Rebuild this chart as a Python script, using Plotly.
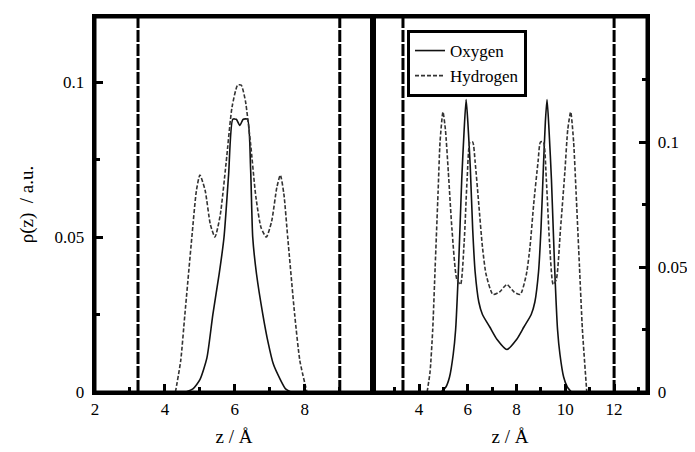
import plotly.graph_objects as go

# ---- data ----
# Left panel
zO_L = [4.6, 4.8, 5.0, 5.2, 5.37, 5.55, 5.69, 5.82, 5.94, 6.04, 6.14, 6.24, 6.36, 6.45, 6.51, 6.62, 6.8, 6.95, 7.1, 7.3, 7.45, 7.6]
rO_L = [0.0, 0.001, 0.004, 0.011, 0.025, 0.038, 0.050, 0.070, 0.088, 0.088, 0.086, 0.088, 0.088, 0.072, 0.050, 0.038, 0.025, 0.016, 0.009, 0.004, 0.001, 0.0]

zH_L = [4.3, 4.45, 4.57, 4.77, 4.9, 5.0, 5.15, 5.3, 5.43, 5.58, 5.75, 5.92, 6.08, 6.18, 6.3, 6.45, 6.6, 6.75, 6.9, 7.05, 7.2, 7.3, 7.4, 7.51, 7.71, 7.86, 8.06]
rH_L = [0.0, 0.010, 0.025, 0.050, 0.065, 0.070, 0.065, 0.054, 0.050, 0.057, 0.074, 0.092, 0.099, 0.099, 0.094, 0.080, 0.063, 0.053, 0.050, 0.055, 0.066, 0.070, 0.064, 0.050, 0.025, 0.010, 0.0]

# Right panel
zO_R = [4.9, 5.1, 5.25, 5.4, 5.5, 5.62, 5.75, 5.85, 5.93, 6.0, 6.1, 6.2, 6.3, 6.45, 6.6, 6.9, 7.2, 7.6, 8.0, 8.3, 8.6, 8.75, 8.9, 9.0, 9.1, 9.18, 9.25, 9.33, 9.43, 9.56, 9.68, 9.78, 9.93, 10.08, 10.25]
rO_R = [0.0, 0.002, 0.006, 0.015, 0.025, 0.050, 0.085, 0.105, 0.117, 0.108, 0.090, 0.065, 0.048, 0.036, 0.031, 0.026, 0.021, 0.017, 0.021, 0.026, 0.031, 0.036, 0.048, 0.065, 0.090, 0.108, 0.117, 0.105, 0.085, 0.050, 0.025, 0.015, 0.006, 0.002, 0.0]

zH_R = [4.33, 4.45, 4.56, 4.66, 4.78, 4.86, 4.98, 5.08, 5.2, 5.35, 5.55, 5.7, 5.85, 5.97, 6.09, 6.2, 6.3, 6.45, 6.6, 6.75, 7.03, 7.3, 7.6, 7.9, 8.15, 8.4, 8.55, 8.7, 8.88, 8.98, 9.1, 9.22, 9.35, 9.5, 9.63, 9.8, 9.98, 10.1, 10.22, 10.34, 10.44, 10.58, 10.7, 10.88]
rH_R = [0.0, 0.008, 0.025, 0.050, 0.080, 0.100, 0.112, 0.105, 0.088, 0.065, 0.045, 0.043, 0.060, 0.085, 0.100, 0.100, 0.092, 0.075, 0.058, 0.047, 0.039, 0.040, 0.043, 0.040, 0.039, 0.047, 0.058, 0.075, 0.092, 0.100, 0.100, 0.085, 0.060, 0.043, 0.045, 0.065, 0.088, 0.105, 0.112, 0.100, 0.080, 0.050, 0.025, 0.0]

walls_L = [3.23, 9.0]
walls_R = [3.34, 12.0]

x_ticks_L = [2, 4, 6, 8]
x_minor_L = [3, 5, 7, 9]
x_ticks_R = [4, 6, 8, 10, 12]
x_minor_R = [3, 5, 7, 9, 11, 13]
y_ticks = [0, 0.05, 0.1]
y_minor_L = [0.025, 0.075]
y_minor_R = [0.025, 0.075, 0.125]
y_labels_L = ["0 ", "0.05 ", "0.1 "]
y_labels_R = [" 0", " 0.05", " 0.1"]

FONT = "Liberation Serif, Times New Roman, DejaVu Serif, serif"

fig = go.Figure()
fig.add_trace(go.Scatter(x=zO_L, y=rO_L, mode="lines", name="Oxygen",
                         line=dict(color="#111", width=1.6, shape="spline", smoothing=0.6),
                         xaxis="x", yaxis="y", showlegend=True))
fig.add_trace(go.Scatter(x=zH_L, y=rH_L, mode="lines", name="Hydrogen",
                         line=dict(color="#333", width=1.6, dash="4px,2px", shape="spline", smoothing=0.6),
                         xaxis="x", yaxis="y", showlegend=True))
fig.add_trace(go.Scatter(x=zO_R, y=rO_R, mode="lines", name="Oxygen",
                         line=dict(color="#111", width=1.6, shape="spline", smoothing=0.6),
                         xaxis="x2", yaxis="y2", showlegend=False))
fig.add_trace(go.Scatter(x=zH_R, y=rH_R, mode="lines", name="Hydrogen",
                         line=dict(color="#333", width=1.6, dash="4px,2px", shape="spline", smoothing=0.6),
                         xaxis="x2", yaxis="y2", showlegend=False))

for xv in walls_L:
    fig.add_shape(type="line", xref="x", yref="y domain", x0=xv, x1=xv, y0=0, y1=1,
                  line=dict(color="black", width=3, dash="12px,2px"))
for xv in walls_R:
    fig.add_shape(type="line", xref="x2", yref="y2 domain", x0=xv, x1=xv, y0=0, y1=1,
                  line=dict(color="black", width=3, dash="12px,2px"))

split = 278 / 552

# panel frames in paper coordinates
fig.add_shape(type="rect", xref="paper", yref="paper", x0=0, x1=split, y0=0, y1=1,
              line=dict(color="black", width=3), layer="above")
fig.add_shape(type="rect", xref="paper", yref="paper", x0=split, x1=1, y0=0, y1=1,
              line=dict(color="black", width=3), layer="above")


def minor(vals):
    return dict(tickmode="array", tickvals=vals, ticks="inside", ticklen=5,
                tickwidth=2.5, tickcolor="black")


axis_common = dict(showline=True, linecolor="black", linewidth=3, mirror=True,
                   ticks="inside", tickwidth=2.5, ticklen=8, tickcolor="black",
                   showgrid=False, zeroline=False, layer="above traces",
                   tickfont=dict(family=FONT, size=17, color="black"))

fig.update_layout(
    template="none",
    width=695, height=452,
    margin=dict(l=87, r=56, t=9, b=68),
    paper_bgcolor="white", plot_bgcolor="white",
    font=dict(family=FONT, color="black", size=17),
    xaxis=dict(domain=[0, split], range=[2, 9.95], tickmode="array", tickvals=x_ticks_L,
               minor=minor(x_minor_L),
               title=dict(text="z / Å", font=dict(family=FONT, size=19, color="black"), standoff=12),
               anchor="y", **axis_common),
    yaxis=dict(range=[0, 0.121], tickmode="array", tickvals=y_ticks, ticktext=y_labels_L,
               minor=minor(y_minor_L),
               title=dict(text="ρ(z)  / a.u.", font=dict(family=FONT, size=19, color="black"), standoff=16),
               anchor="x", **axis_common),
    xaxis2=dict(domain=[split, 1], range=[2.11, 13.35], tickmode="array", tickvals=x_ticks_R,
                minor=minor(x_minor_R),
                title=dict(text="z / Å", font=dict(family=FONT, size=19, color="black"), standoff=12),
                anchor="y2", **axis_common),
    yaxis2=dict(range=[0, 0.15], tickmode="array", tickvals=y_ticks, ticktext=y_labels_R, side="right",
                minor=minor(y_minor_R),
                anchor="x2", **axis_common),
    legend=dict(x=(407 - 95) / 552, y=(392 - 30) / 375, xanchor="left", yanchor="top",
                bgcolor="white", bordercolor="black", borderwidth=3,
                font=dict(family=FONT, size=17, color="black")),
    showlegend=True,
)

fig.write_html("out.html")
